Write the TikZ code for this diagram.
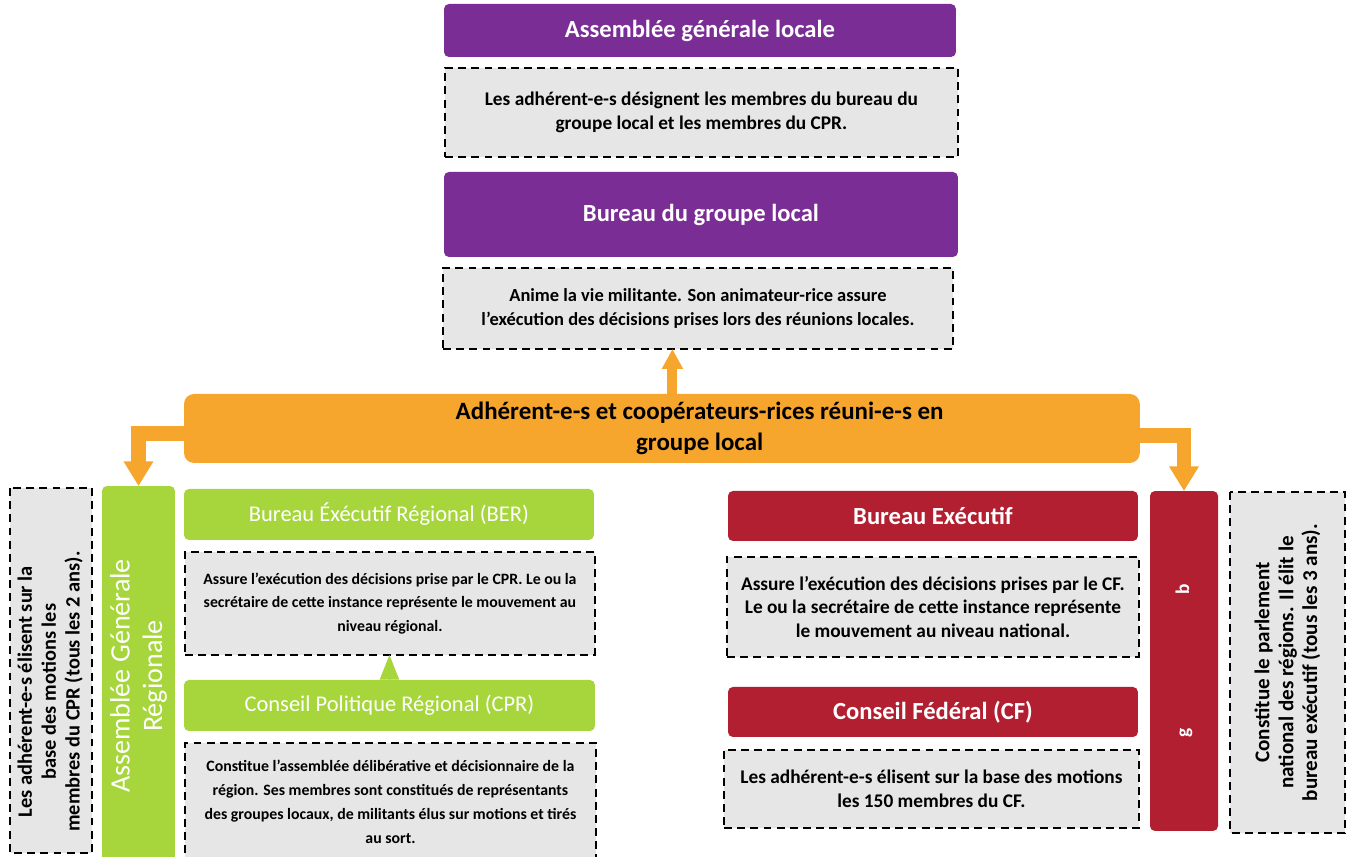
\documentclass[tikz,border=0pt]{standalone}
\usepackage{fontspec}
\setmainfont{Carlito}
\usetikzlibrary{arrows.meta, positioning}
\definecolor{localcolor}{HTML}{7B2D96}
\definecolor{groupcolor}{HTML}{F6A52D}
\definecolor{regioncolor}{HTML}{A6D63C}
\definecolor{nationcolor}{HTML}{B21F30}
\definecolor{descgrey}{HTML}{E6E6E6}
\newcommand{\descfont}[1]{\bfseries\fontsize{#1}{13.6}\selectfont}

\begin{document}
\begin{tikzpicture}[
    x=0.02cm, y=-0.02cm,
    titlebox/.style={rectangle, rounded corners=2.8pt, inner sep=0pt, outer sep=0pt, text=white, align=center, font=\bfseries\fontsize{14}{17}\selectfont},
    descbox/.style={rectangle, draw=black, dashed, dash pattern=on 4.5pt off 3pt, line width=1.1pt, fill=descgrey, inner sep=0pt, outer sep=0pt, align=center, font=\descfont{11}},
    bigarrow/.style={draw=groupcolor, line width=8.5pt, -{Triangle[width=16pt, length=14pt]}},
    uparrow/.style={draw=groupcolor, line width=5.7pt, -{Triangle[width=11.3pt, length=11.3pt]}},
    cprarrow/.style={draw=regioncolor, line width=0.5pt, -{Triangle[width=11pt, length=14pt]}}
]
    \useasboundingbox (0,0) rectangle (1347,857);
    \clip (0,0) rectangle (1347,857);

    % Local level
    \node[titlebox, fill=localcolor, anchor=north west, minimum width=10.24cm, minimum height=1.06cm] (agl) at (444,4) {Assemblée générale locale};
    \node[descbox, anchor=north west, minimum width=10.26cm, minimum height=1.78cm] (agldesc) at (445,68)
        {Les adhérent-e-s désignent les membres du bureau du\\groupe local et les membres du CPR.};
    \node[titlebox, fill=localcolor, anchor=north west, minimum width=10.28cm, minimum height=1.70cm] (bgl) at (444,172) {Bureau du groupe local};
    \node[descbox, anchor=north west, minimum width=10.2cm, minimum height=1.62cm, font=\descfont{10.5}] (bgldesc) at (443,268)
        {Anime la vie militante. Son animateur-rice assure\\l’exécution des décisions prises lors des réunions locales.};

    % Group of members
    \node[titlebox, fill=groupcolor, text=black, rounded corners=5.7pt, anchor=north west, minimum width=19.12cm, minimum height=1.38cm, font=\bfseries\fontsize{14.2}{18}\selectfont] (group) at (184,394)
        {\hspace*{43pt}\begin{tabular}{@{}c@{}}Adhérent-e-s et coopérateurs-rices réuni-e-s en\\groupe local\end{tabular}};

    % Regional level
    \node[titlebox, fill=regioncolor, rotate=90, minimum width=7.6cm, minimum height=1.46cm, font=\fontsize{16}{18.5}\selectfont] (agr) at (138.5,676)
        {Assemblée Générale\\Régionale};
    \node[descbox, rotate=90, minimum width=7.30cm, minimum height=1.64cm, font=\descfont{11.6}] (agrdesc) at (51,670.5)
        {\begin{tabular}{@{}c@{}}Les adhérent-e-s élisent sur la\\base des motions les\\membres du CPR (tous les 2 ans).\end{tabular}\hspace*{24pt}};
    \node[titlebox, fill=regioncolor, anchor=north west, minimum width=8.2cm, minimum height=1.02cm, font=\fontsize{12.8}{16}\selectfont] (ber) at (184,489) {Bureau Éxécutif Régional (BER)};
    \node[descbox, anchor=north west, minimum width=8.2cm, minimum height=2.06cm, font=\descfont{9}] (berdesc) at (185,552)
        {Assure l’exécution des décisions prise par le CPR. Le ou la\\secrétaire de cette instance représente le mouvement au\\niveau régional.};
    \node[titlebox, fill=regioncolor, anchor=north west, minimum width=8.22cm, minimum height=1.02cm, font=\fontsize{12.8}{16}\selectfont] (cpr) at (184,680) {Conseil Politique Régional (CPR)};
    \node[descbox, anchor=north west, minimum width=8.22cm, minimum height=2.34cm, font=\descfont{9}] (cprdesc) at (185,743)
        {Constitue l’assemblée délibérative et décisionnaire de la\\région. Ses membres sont constitués de représentants\\des groupes locaux, de militants élus sur motions et tirés\\au sort.};

    % National level
    \node[titlebox, fill=nationcolor, anchor=north west, minimum width=8.2cm, minimum height=1.0cm] (be) at (728,491) {Bureau Exécutif};
    \node[descbox, anchor=north west, minimum width=8.24cm, minimum height=2.0cm] (bedesc) at (727,557)
        {Assure l’exécution des décisions prises par le CF.\\Le ou la secrétaire de cette instance représente\\le mouvement au niveau national.};
    \node[titlebox, fill=nationcolor, anchor=north west, minimum width=8.2cm, minimum height=1.0cm] (cf) at (728,687) {Conseil Fédéral (CF)};
    \node[descbox, anchor=north west, minimum width=8.3cm, minimum height=1.56cm] (cfdesc) at (724,750)
        {Les adhérent-e-s élisent sur la base des motions\\les 150 membres du CF.};
    \node[titlebox, fill=nationcolor, rotate=90, minimum width=6.8cm, minimum height=1.36cm, font=\bfseries\fontsize{11}{13}\selectfont] (cfbar) at (1184,661)
        {g\hspace{76pt}b};
    \node[descbox, rotate=90, minimum width=6.82cm, minimum height=2.3cm, font=\descfont{12}] (cfparl) at (1287.5,662.5)
        {Constitue le parlement\\national des régions. Il élit le\\bureau exécutif (tous les 3 ans).};

    % Connections
    \draw[uparrow] ([xshift=6pt]group.north) -- ([xshift=6pt]group.north |- bgldesc.south);
    \draw[bigarrow] ([yshift=-3pt]group.west) -| (agr.east);
    \draw[bigarrow] ([yshift=-4pt]group.east) -| (cfbar.east);
    \draw[cprarrow] (cpr.north) -- (cpr.north |- berdesc.south);
\end{tikzpicture}
\end{document}
